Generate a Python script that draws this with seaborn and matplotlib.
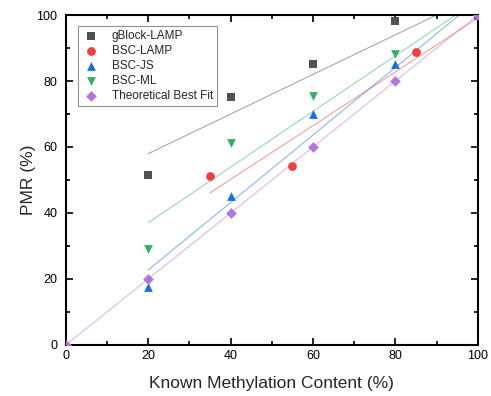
import numpy as np
import pandas as pd
import matplotlib
matplotlib.use("Agg")
import matplotlib.pyplot as plt
from matplotlib.ticker import MultipleLocator
import seaborn as sns

# Known methylation content (%) and measured PMR (%) per method
gblock_x = [20, 40, 60, 80, 100]
gblock_y = [51.5, 75.1, 85.2, 98.2, 100]
bsc_lamp_x = [35, 55, 85, 100]
bsc_lamp_y = [51.3, 54.2, 88.9, 100]
bsc_js_x = [20, 40, 60, 80, 100]
bsc_js_y = [17.7, 45.2, 70.0, 85.3, 100]
bsc_ml_x = [20, 40, 60, 80, 100]
bsc_ml_y = [29.1, 61.1, 75.6, 88.1, 100]
theory_x = [0, 20, 40, 60, 80, 100]
theory_y = [0, 20, 40, 60, 80, 100]

series = [
    ("gBlock-LAMP", gblock_x, gblock_y, "#515151", "s"),
    ("BSC-LAMP", bsc_lamp_x, bsc_lamp_y, "#F14040", "o"),
    ("BSC-JS", bsc_js_x, bsc_js_y, "#1A6FDF", "^"),
    ("BSC-ML", bsc_ml_x, bsc_ml_y, "#37AD6B", "v"),
    ("Theoretical Best Fit", theory_x, theory_y, "#B177DE", "D"),
]

sns.set_style("ticks")
plt.rcParams["font.family"] = ["Liberation Sans", "DejaVu Sans"]

fig = plt.figure(figsize=(4.91, 3.96), dpi=100)
ax = fig.add_axes([0.134, 0.129, 0.839, 0.833])

# linear fits first (thin, light), then the markers
for name, xs, ys, color, marker in series:
    sns.regplot(x=np.array(xs, float), y=np.array(ys, float), ax=ax, scatter=False,
                ci=None, truncate=True, color=color,
                line_kws={"lw": 0.8, "alpha": 0.5})

for name, xs, ys, color, marker in series:
    df = pd.DataFrame({"x": xs, "y": ys})
    size = 30 if marker == "D" else 40
    sns.scatterplot(data=df, x="x", y="y", ax=ax, color=color, marker=marker,
                    s=size, linewidth=0, label=name, zorder=5)

ax.set_xlim(0, 100)
ax.set_ylim(0, 100)
ax.xaxis.set_major_locator(MultipleLocator(20))
ax.xaxis.set_minor_locator(MultipleLocator(10))
ax.yaxis.set_major_locator(MultipleLocator(20))
ax.yaxis.set_minor_locator(MultipleLocator(10))
ax.tick_params(which="both", direction="in", top=True, right=True,
               labeltop=False, labelright=False, width=1.2, colors="black",
               labelsize=9)
ax.tick_params(which="major", length=5)
ax.tick_params(which="minor", length=3)
ax.tick_params(axis="y", pad=6)
ax.tick_params(axis="x", pad=4)
for sp in ax.spines.values():
    sp.set_linewidth(1.5)
    sp.set_color("black")

ax.set_xlabel("Known Methylation Content (%)", fontsize=12.5, labelpad=10)
ax.set_ylabel("PMR (%)", fontsize=12.5, labelpad=0)

leg = ax.legend(loc="upper left", fontsize=8.5, frameon=True, fancybox=False,
                edgecolor="#777777", handletextpad=0.9, borderpad=0.35,
                labelspacing=0.25, handlelength=1.6,
                bbox_to_anchor=(0.015, 0.985))
leg.get_frame().set_linewidth(0.8)

fig.savefig("out.png", dpi=100)
